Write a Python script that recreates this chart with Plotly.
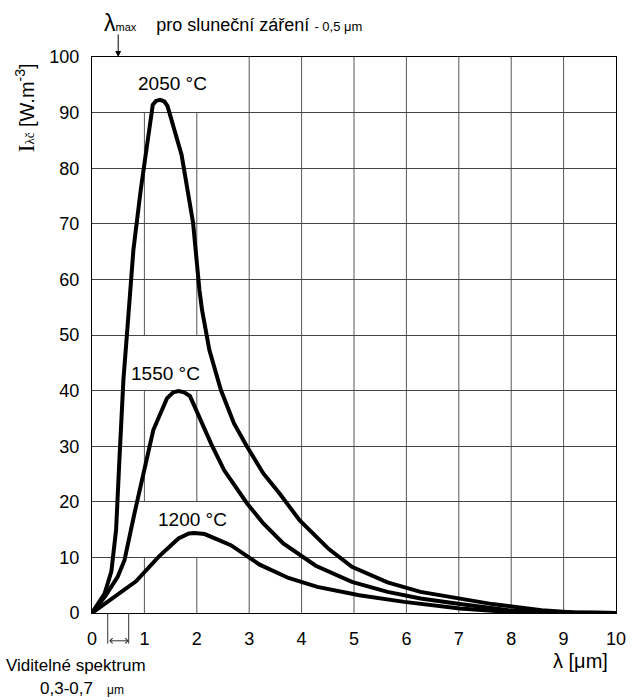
import plotly.graph_objects as go

# ---- data ----
x_2050 = [0, 0.24, 0.37, 0.46, 0.52, 0.60, 0.67, 0.79, 0.93, 1.10, 1.16, 1.22, 1.30, 1.38, 1.44,
          1.71, 1.93, 2.05, 2.10, 2.24, 2.46, 2.71, 2.96, 3.27, 3.58, 3.96, 4.52, 4.96, 5.64,
          6.27, 7.02, 7.64, 8.58, 9.20, 10]
y_2050 = [0, 3.5, 7.5, 15, 27, 42, 50.5, 65.3, 76.1, 88, 91.4, 92.1, 92.3, 92.0, 91.2,
          82.4, 70.1, 58.1, 54.5, 47.3, 40.1, 34.1, 29.9, 25.1, 21.5, 16.7, 11.5, 8.3, 5.5,
          3.8, 2.6, 1.6, 0.5, 0.1, 0]

x_1550 = [0, 0.25, 0.49, 0.62, 0.81, 0.99, 1.17, 1.43, 1.55, 1.65, 1.76, 1.87, 2.27, 2.52,
          2.96, 3.27, 3.65, 4.27, 4.96, 5.64, 6.27, 7.02, 7.95, 8.9, 10]
y_1550 = [0, 3.0, 6.5, 9.5, 17.9, 25.7, 32.9, 38.6, 39.7, 39.9, 39.7, 39.0, 30.5, 25.7,
          19.7, 16.1, 12.5, 8.5, 5.6, 3.8, 2.6, 1.6, 0.5, 0.1, 0]

x_1200 = [0, 0.34, 0.84, 1.27, 1.65, 1.85, 1.96, 2.15, 2.65, 3.2, 3.75, 4.3, 5.1, 5.96,
          7.02, 7.95, 9.0, 10]
y_1200 = [0, 2.3, 5.7, 10.1, 13.4, 14.3, 14.4, 14.2, 12.2, 8.7, 6.3, 4.7, 3.2, 2.0,
          0.8, 0.2, 0.05, 0]

series_labels = ["2050 °C", "1550 °C", "1200 °C"]
label_pos = [(1.54, 95.2), (1.40, 43.0), (1.91, 16.8)]

x_ticks = list(range(0, 11))
y_ticks = list(range(0, 101, 10))

FONT = "Liberation Sans, Arial, sans-serif"

fig = go.Figure()
for xs, ys in [(x_2050, y_2050), (x_1550, y_1550), (x_1200, y_1200)]:
    fig.add_trace(go.Scatter(x=xs, y=ys, mode="lines",
                             line=dict(color="black", width=4),
                             showlegend=False, hoverinfo="skip"))

# vertical grid lines (interrupted behind the curve labels)
shapes = []
gaps = {1: [(0, 10), (20, 40), (50, 90)], 2: [(0, 10), (20, 40), (50, 90)]}
for xv in x_ticks[1:-1]:
    segs = gaps.get(xv, [(0, 100)])
    for a, b in segs:
        shapes.append(dict(type="line", xref="x", yref="y", x0=xv, x1=xv, y0=a, y1=b,
                           line=dict(color="#555", width=1), layer="below"))

# visible-spectrum bracket
for xv in (0.3, 0.7):
    shapes.append(dict(type="line", xref="x", yref="paper", x0=xv, x1=xv, y0=0, y1=-0.055,
                       line=dict(color="#333", width=1)))

annotations = []
for txt, (lx, ly) in zip(series_labels, label_pos):
    annotations.append(dict(x=lx, y=ly, xref="x", yref="y", text=txt, showarrow=False,
                            font=dict(family=FONT, size=19, color="black")))

# double arrow 0.3-0.7
annotations.append(dict(x=0.7, y=-0.05, xref="x", yref="paper", ax=0.3, ay=0,
                        axref="x", ayref="pixel", text="", showarrow=True,
                        arrowhead=4, startarrowhead=4, arrowside="end+start",
                        arrowsize=1, arrowwidth=1, arrowcolor="#333"))

# arrow for lambda max
annotations.append(dict(x=0.5, y=100, xref="x", yref="y", ax=0, ay=-24, text="",
                        showarrow=True, arrowhead=2, arrowsize=1.2, arrowwidth=1,
                        arrowcolor="black"))

# top text
annotations.append(dict(x=(102 - 92) / 534, y=(613 - 23) / 556, xref="paper", yref="paper",
                        xanchor="left", yanchor="middle", showarrow=False,
                        text="<span style='font-size:23px'>λ</span><span style='font-size:11px'>max</span>"
                             "    pro sluneční záření <span style='font-size:13px'>- 0,5 μm</span>",
                        font=dict(family=FONT, size=18, color="black")))

# y-axis title
annotations.append(dict(x=(24 - 92) / 534, y=(613 - 108) / 556, xref="paper", yref="paper",
                        textangle=-90, showarrow=False, xanchor="center", yanchor="middle",
                        text="<span style='font-family:Liberation Serif;font-size:23px'>I</span>"
                             "<span style='font-family:Liberation Serif;font-size:13px'>λč</span>"
                             " [W.m<sup>-3</sup>]",
                        font=dict(family=FONT, size=20, color="black")))

# x-axis title
annotations.append(dict(x=(590 - 92) / 534, y=(613 - 661) / 556, xref="paper", yref="paper",
                        showarrow=False, xanchor="center", yanchor="middle",
                        text="λ [μm]", font=dict(family=FONT, size=20, color="black")))

# visible spectrum text
annotations.append(dict(x=(76 - 92) / 534, y=(613 - 665) / 556, xref="paper", yref="paper",
                        showarrow=False, xanchor="center", yanchor="middle",
                        text="Viditelné spektrum", font=dict(family=FONT, size=17, color="black")))
annotations.append(dict(x=(82 - 92) / 534, y=(613 - 688) / 556, xref="paper", yref="paper",
                        showarrow=False, xanchor="center", yanchor="middle",
                        text="0,3-0,7   <span style='font-size:12px'>μm</span>",
                        font=dict(family=FONT, size=17, color="black")))

fig.update_layout(
    width=637, height=700,
    margin=dict(l=92, r=11, t=57, b=87),
    paper_bgcolor="white", plot_bgcolor="white",
    shapes=shapes, annotations=annotations,
    font=dict(family=FONT, size=18, color="black"),
    xaxis=dict(range=[0, 10], tickvals=x_ticks, showgrid=False, zeroline=False,
               showline=True, mirror=True, linecolor="black", linewidth=1,
               ticks="", ticklabelstandoff=9, tickfont=dict(size=18)),
    yaxis=dict(range=[0, 100], tickvals=y_ticks, showgrid=True, gridcolor="#444",
               gridwidth=1, zeroline=False, showline=True, mirror=True,
               linecolor="black", linewidth=1, ticks="", ticklabelstandoff=8,
               tickfont=dict(size=18)),
)

fig.write_html("out.html")
